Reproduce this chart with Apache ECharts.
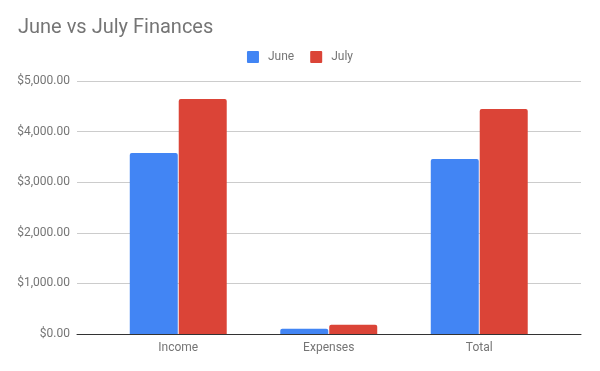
<!DOCTYPE html>
<html><head><meta charset="utf-8">
<script src="https://cdn.jsdelivr.net/npm/echarts@6/dist/echarts.min.js"></script>
<style>html,body{margin:0;padding:0;background:#fff}#c{width:600px;height:371px}</style>
</head><body><div id="c"></div>
<script>
const categories = ['Income', 'Expenses', 'Total'];
const juneValues = [3577, 105, 3458];
const julyValues = [4644, 182, 4447];
const seriesNames = ['June', 'July'];
const yMin = 0, yMax = 5000, yInterval = 1000;

const chart = echarts.init(document.getElementById('c'), null, {renderer: 'canvas'});
const font = 'Roboto, Arial, sans-serif';
const fmt = v => '$' + v.toLocaleString('en-US', {minimumFractionDigits: 2, maximumFractionDigits: 2});
chart.setOption({
  animation: false,
  title: {text: 'June vs July Finances', left: 18, top: 18, padding: 0,
    textStyle: {fontFamily: font, fontSize: 20, fontWeight: 'normal', color: '#757575'}},
  legend: {data: seriesNames, left: 'center', top: 51, padding: 0, itemWidth: 12, itemHeight: 12, itemGap: 16,
    icon: 'path://M1,0 L11,0 Q12,0 12,1 L12,11 Q12,12 11,12 L1,12 Q0,12 0,11 L0,1 Q0,0 1,0 Z',
    textStyle: {fontFamily: font, fontSize: 12, color: '#757575', padding: [0, 0, 0, 4]}},
  grid: [
    {left: 77, right: 19, top: 81, bottom: 37},
    {left: 103, right: 45.5, top: 81, bottom: 37}
  ],
  xAxis: [
    {gridIndex: 0, type: 'category', data: categories, axisLine: {lineStyle: {color: '#333', width: 1}},
      axisTick: {show: false}, axisLabel: {show: false}, z: 5},
    {gridIndex: 1, type: 'category', data: categories, axisLine: {show: false}, axisTick: {show: false},
      axisLabel: {fontFamily: font, fontSize: 12, color: '#757575', margin: 8}}
  ],
  yAxis: [
    {gridIndex: 0, type: 'value', min: yMin, max: yMax, interval: yInterval,
      axisLine: {show: false}, axisTick: {show: false},
      splitLine: {lineStyle: {color: '#cccccc'}},
      axisLabel: {formatter: fmt, fontFamily: font, fontSize: 12, color: '#757575', margin: 7}},
    {gridIndex: 1, type: 'value', min: yMin, max: yMax, interval: yInterval, show: false}
  ],
  series: [
    {name: 'June', type: 'bar', xAxisIndex: 1, yAxisIndex: 1, data: juneValues, barWidth: 48, barGap: '2%',
      itemStyle: {color: '#4285F4', borderRadius: [2, 2, 0, 0]}},
    {name: 'July', type: 'bar', xAxisIndex: 1, yAxisIndex: 1, data: julyValues, barWidth: 48, barGap: '2%',
      itemStyle: {color: '#DB4437', borderRadius: [2, 2, 0, 0]}}
  ]
});
</script></body></html>
